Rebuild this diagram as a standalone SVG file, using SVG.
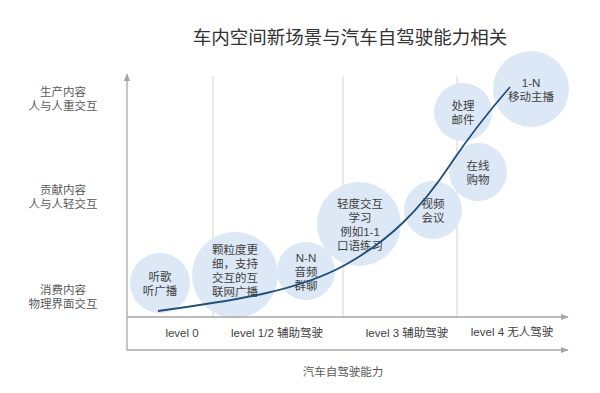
<svg xmlns="http://www.w3.org/2000/svg" width="600" height="393" viewBox="0 0 600 393">
<defs>
<style>
text{font-family:"Liberation Sans","Noto Sans CJK SC",sans-serif;fill:#404040;text-anchor:middle}
.t{font-size:18.5px;fill:#333}
.ax{font-size:11.5px;fill:#595959}
.lv{font-size:11.5px;fill:#404040}
.c circle{fill:#dce8f5}
.c text{font-size:11.5px;fill:#404040}
.g{stroke:#d4d4d4;stroke-width:1}
.a{stroke:#a6a6a6;stroke-width:1.3;fill:none}
</style>
<marker id="ah" viewBox="0 0 10 10" refX="9" refY="5" markerWidth="8" markerHeight="8" markerUnits="userSpaceOnUse" orient="auto"><path d="M0,1 L10,5 L0,9 z" fill="#a6a6a6"/></marker>
</defs>
<rect width="600" height="393" fill="#fff"/>
<text class="t" x="350" y="44">车内空间新场景与汽车自驾驶能力相关</text>
<g id="ylabels">
<text class="ax" x="63" y="96">生产内容<tspan x="63" dy="14">人与人重交互</tspan></text>
<text class="ax" x="63" y="194">贡献内容<tspan x="63" dy="14">人与人轻交互</tspan></text>
<text class="ax" x="63" y="294">消费内容<tspan x="63" dy="14">物理界面交互</tspan></text>
</g>
<g id="grid">
<line class="g" x1="213" y1="76" x2="213" y2="317"/>
<line class="g" x1="343" y1="76" x2="343" y2="317"/>
<line class="g" x1="457" y1="76" x2="457" y2="317"/>
</g>
<g id="nodes" class="c">
<g id="n1"><circle cx="160" cy="283" r="30"/><text x="160" y="281">听歌<tspan x="160" dy="14">听广播</tspan></text></g>
<g id="n2"><circle cx="235" cy="275" r="43"/><text x="235" y="254">颗粒度更<tspan x="235" dy="14">细，支持</tspan><tspan x="235" dy="14">交互的互</tspan><tspan x="235" dy="13.5">联网广播</tspan></text></g>
<g id="n3"><circle cx="306" cy="271" r="29"/><text x="306" y="262">N-N<tspan x="306" dy="14">音频</tspan><tspan x="306" dy="14">群聊</tspan></text></g>
<g id="n4"><circle cx="359" cy="224" r="42"/><text x="360" y="208">轻度交互<tspan x="360" dy="14">学习</tspan><tspan x="360" dy="14">例如1-1</tspan><tspan x="360" dy="14">口语练习</tspan></text></g>
<g id="n5"><circle cx="433" cy="210" r="29"/><text x="433" y="208">视频<tspan x="433" dy="14">会议</tspan></text></g>
<g id="n6"><circle cx="478" cy="172" r="29"/><text x="478" y="170">在线<tspan x="478" dy="14">购物</tspan></text></g>
<g id="n7"><circle cx="463" cy="112" r="29"/><text x="463" y="110">处理<tspan x="463" dy="14">邮件</tspan></text></g>
<g id="n8"><circle cx="531" cy="89" r="38"/><text x="531" y="87">1-N<tspan x="531" dy="14">移动主播</tspan></text></g>
</g>
<g id="connectors">
<path d="M158,311 C240,300 300,290 345,265 C390,240 420,210 450,165 C470,135 490,110 510,87" fill="none" stroke="#1f4e79" stroke-width="1.8"/>
<line class="a" x1="127" y1="350" x2="127" y2="74" marker-end="url(#ah)"/>
<line class="a" x1="127" y1="317" x2="568" y2="317" marker-end="url(#ah)"/>
<line class="a" x1="127" y1="350" x2="568" y2="350" marker-end="url(#ah)"/>
</g>
<g id="xlabels">
<text class="lv" x="182" y="337">level 0</text>
<text class="lv" x="277" y="337">level 1/2 辅助驾驶</text>
<text class="lv" x="407" y="337">level 3 辅助驾驶</text>
<text class="lv" x="512" y="336">level 4 无人驾驶</text>
<text class="ax" x="343" y="376">汽车自驾驶能力</text>
</g>
</svg>
